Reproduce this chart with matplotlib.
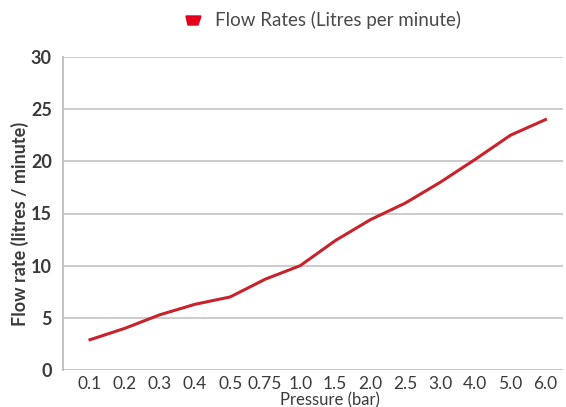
import matplotlib
matplotlib.use("Agg")
import matplotlib.pyplot as plt
from matplotlib.patches import Polygon

# data
pressure = ['0.1', '0.2', '0.3', '0.4', '0.5', '0.75', '1.0', '1.5',
            '2.0', '2.5', '3.0', '4.0', '5.0', '6.0']
flow = [2.9, 4.0, 5.3, 6.3, 7.0, 8.7, 10.0, 12.4, 14.4, 16.0, 18.0, 20.2, 22.5, 24.0]
yticks = [0, 5, 10, 15, 20, 25, 30]

plt.rcParams['font.family'] = ['Lato', 'DejaVu Sans']
txt = '#3a3a3a'

fig = plt.figure(figsize=(5.66, 4.07), dpi=100)
ax = fig.add_axes([63 / 566, 37 / 407, 500 / 566, 313 / 407])

x = list(range(len(pressure)))
ax.plot(x, flow, color='#c8232c', lw=2.2, solid_joinstyle='round')

ax.set_ylim(0, 30)
ax.set_xlim(-0.77, 13.5)
ax.set_yticks(yticks)
ax.set_yticklabels([str(v) for v in yticks], fontsize=13, fontweight='bold', color=txt)
ax.set_xticks(x)
ax.set_xticklabels(pressure, fontsize=12.5, color=txt)
ax.tick_params(axis='both', length=0)
ax.tick_params(axis='y', pad=8)
ax.tick_params(axis='x', pad=4)

ax.grid(axis='y', color='#c8c8c8', lw=1.3)
ax.set_axisbelow(True)
for s in ['top', 'right', 'bottom']:
    ax.spines[s].set_visible(False)
ax.spines['left'].set_color('#bdbdbd')
ax.spines['left'].set_linewidth(1.3)
ax.axhline(0, color='#bdbdbd', lw=1.3, zorder=0)

fig.text(20 / 566, 1 - 224 / 407, 'Flow rate (litres / minute)', rotation=90,
         ha='center', va='center', fontsize=13, fontweight='bold', color=txt)
fig.text(330 / 566, 1 - 400 / 407, 'Pressure (bar)', ha='center', va='center',
         fontsize=12, color=txt)

# legend
fig.patches.append(Polygon([[186 / 566, 1 - 16 / 407], [201 / 566, 1 - 16 / 407],
                            [198 / 566, 1 - 25 / 407], [188 / 566, 1 - 25 / 407]],
                           closed=True, transform=fig.transFigure, color='#e3001b'))
fig.text(215 / 566, 1 - 20 / 407, 'Flow Rates (Litres per minute)', ha='left', va='center',
         fontsize=13.5, color='#4a4a4a')

fig.savefig('out.png', dpi=100)
